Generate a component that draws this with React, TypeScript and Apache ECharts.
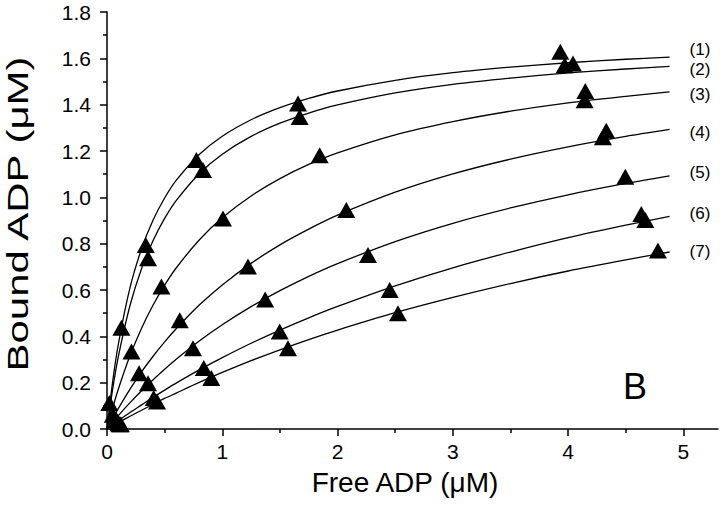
import React, { useEffect, useRef } from "react";
import * as echarts from "echarts";

// Fitted-curve sample points
const curveX = [0, 0.05, 0.1, 0.2, 0.3, 0.4, 0.5, 0.6, 0.8, 1.0, 1.25, 1.5, 1.75, 2.0, 2.5, 3.0, 3.5, 4.0, 4.5, 4.88];
const curve1 = [0, 0.208, 0.371, 0.611, 0.778, 0.902, 0.997, 1.073, 1.185, 1.264, 1.335, 1.387, 1.427, 1.459, 1.505, 1.538, 1.562, 1.581, 1.596, 1.605];
const curve2 = [0, 0.175, 0.317, 0.534, 0.693, 0.814, 0.909, 0.986, 1.102, 1.186, 1.263, 1.32, 1.364, 1.399, 1.451, 1.488, 1.515, 1.537, 1.554, 1.565];
const curve3 = [0, 0.092, 0.175, 0.317, 0.435, 0.535, 0.621, 0.695, 0.816, 0.912, 1.006, 1.081, 1.142, 1.192, 1.27, 1.327, 1.372, 1.408, 1.436, 1.455];
const curve4 = [0, 0.046, 0.09, 0.172, 0.247, 0.314, 0.376, 0.433, 0.535, 0.622, 0.715, 0.795, 0.863, 0.923, 1.022, 1.101, 1.165, 1.218, 1.263, 1.293];
const curve5 = [0, 0.03, 0.059, 0.114, 0.165, 0.213, 0.258, 0.301, 0.38, 0.45, 0.528, 0.597, 0.659, 0.714, 0.809, 0.888, 0.954, 1.011, 1.06, 1.093];
const curve6 = [0, 0.018, 0.036, 0.071, 0.104, 0.137, 0.168, 0.198, 0.255, 0.308, 0.37, 0.427, 0.48, 0.529, 0.618, 0.696, 0.764, 0.826, 0.88, 0.918];
const curve7 = [0, 0.014, 0.028, 0.055, 0.081, 0.107, 0.132, 0.155, 0.201, 0.244, 0.295, 0.342, 0.386, 0.427, 0.502, 0.568, 0.628, 0.682, 0.73, 0.764];

// Measured data points (free ADP, bound ADP)
const pts1X = [0.02, 0.125, 0.336, 0.775, 1.657, 3.932];
const pts1Y = [0.112, 0.437, 0.794, 1.161, 1.405, 1.628];
const pts2X = [0.05, 0.356, 0.833, 1.671, 3.97, 4.042];
const pts2Y = [0.062, 0.737, 1.118, 1.347, 1.57, 1.578];
const pts3X = [0.08, 0.212, 0.472, 1.006, 1.845, 4.149, 4.143];
const pts3Y = [0.04, 0.334, 0.615, 0.909, 1.182, 1.459, 1.419];
const pts4X = [0.09, 0.278, 0.631, 1.223, 2.076, 4.331, 4.302];
const pts4Y = [0.03, 0.241, 0.469, 0.701, 0.945, 1.287, 1.259];
const pts5X = [0.1, 0.356, 0.746, 1.372, 2.264, 4.496];
const pts5Y = [0.025, 0.198, 0.349, 0.559, 0.751, 1.089];
const pts6X = [0.11, 0.405, 0.839, 1.498, 2.452, 4.635, 4.67];
const pts6Y = [0.02, 0.134, 0.263, 0.421, 0.6, 0.928, 0.902];
const pts7X = [0.12, 0.434, 0.905, 1.57, 2.524, 4.779];
const pts7Y = [0.02, 0.119, 0.22, 0.349, 0.5, 0.77];

const curveLabels = ["(1)", "(2)", "(3)", "(4)", "(5)", "(6)", "(7)"];
const xMajorTicks = [0, 1, 2, 3, 4, 5];
const xMinorTicks = [0.5, 1.5, 2.5, 3.5, 4.5];

const FONT = "'Liberation Sans', Arial, Helvetica, sans-serif";

export default function App() {
  const ref = useRef<HTMLDivElement>(null);

  useEffect(() => {
    if (!ref.current) return;
    const chart = echarts.init(ref.current, undefined, { renderer: "svg" });

    const curves = [curve1, curve2, curve3, curve4, curve5, curve6, curve7];
    const pts = [
      [pts1X, pts1Y],
      [pts2X, pts2Y],
      [pts3X, pts3Y],
      [pts4X, pts4Y],
      [pts5X, pts5Y],
      [pts6X, pts6Y],
      [pts7X, pts7Y],
    ];
    const labelDy = [-8, 3, 3, 3, -3, -3, -1];

    const lineSeries = curves.map((c, i) => ({
      type: "line",
      name: "fit" + (i + 1),
      xAxisIndex: 0,
      yAxisIndex: 0,
      data: curveX.map((x, j) => [x, c[j]]),
      showSymbol: false,
      symbol: "none",
      smooth: 0.3,
      lineStyle: { color: "#000", width: 1.3 },
      endLabel: {
        show: true,
        formatter: curveLabels[i],
        color: "#000",
        fontFamily: FONT,
        fontSize: 17,
        lineHeight: 14,
        distance: 20,
        offset: [0, labelDy[i]],
      },
      z: 2,
    }));

    const scatterSeries = pts.map((p, i) => ({
      type: "scatter",
      name: "data" + (i + 1),
      xAxisIndex: 0,
      yAxisIndex: 0,
      data: p[0].map((x, j) => [x, p[1][j]]),
      symbol: "triangle",
      symbolSize: [18, 16],
      itemStyle: { color: "#000", opacity: 1 },
      z: 3,
    }));

    const option: any = {
      animation: false,
      backgroundColor: "#fff",
      grid: { left: 107, right: 2, top: 12, bottom: 76, containLabel: false },
      xAxis: [
        {
          type: "value",
          min: 0,
          max: 5.3,
          interval: 0.5,
          splitLine: { show: false },
          axisLine: { show: true, lineStyle: { color: "#000", width: 1.5 } },
          axisTick: {
            show: true,
            customValues: xMajorTicks,
            length: 7,
            lineStyle: { color: "#000", width: 1.5 },
          },
          axisLabel: {
            customValues: xMajorTicks,
            color: "#000",
            fontFamily: FONT,
            fontSize: 21,
            margin: 12,
            formatter: (v: number) => String(v),
          },
        },
        {
          type: "value",
          min: 0,
          max: 5.3,
          interval: 0.5,
          position: "bottom",
          splitLine: { show: false },
          axisLine: { show: false },
          axisTick: {
            show: true,
            customValues: xMinorTicks,
            length: 4,
            lineStyle: { color: "#000", width: 1.5 },
          },
          axisLabel: { show: false },
        },
      ],
      yAxis: {
        type: "value",
        min: 0,
        max: 1.8,
        interval: 0.2,
        splitLine: { show: false },
        axisLine: { show: true, lineStyle: { color: "#000", width: 1.5 } },
        axisTick: { show: true, length: 7, lineStyle: { color: "#000", width: 1.5 } },
        minorTick: { show: true, splitNumber: 2, length: 4, lineStyle: { color: "#000", width: 1.5 } },
        axisLabel: {
          color: "#000",
          fontFamily: FONT,
          fontSize: 21,
          margin: 16,
          formatter: (v: number) => v.toFixed(1),
        },
      },
      graphic: [
        {
          type: "text",
          x: 18,
          y: 214,
          rotation: Math.PI / 2,
          scaleX: 1.4,
          style: {
            text: "Bound ADP (μM)",
            fontFamily: FONT,
            fontSize: 30,
            fill: "#000",
            textAlign: "center",
            textVerticalAlign: "middle",
          },
        },
        {
          type: "text",
          x: 405,
          y: 482,
          style: {
            text: "Free ADP (μM)",
            fontFamily: FONT,
            fontSize: 28,
            fill: "#000",
            textAlign: "center",
            textVerticalAlign: "middle",
          },
        },
        {
          type: "text",
          x: 635,
          y: 386,
          style: {
            text: "B",
            fontFamily: FONT,
            fontSize: 36,
            fill: "#000",
            textAlign: "center",
            textVerticalAlign: "middle",
          },
        },
      ],
      series: [...lineSeries, ...scatterSeries],
    };

    chart.setOption(option);
    return () => chart.dispose();
  }, []);

  return <div ref={ref} style={{ width: 720, height: 505, position: "absolute", left: 0, top: 0 }} />;
}
